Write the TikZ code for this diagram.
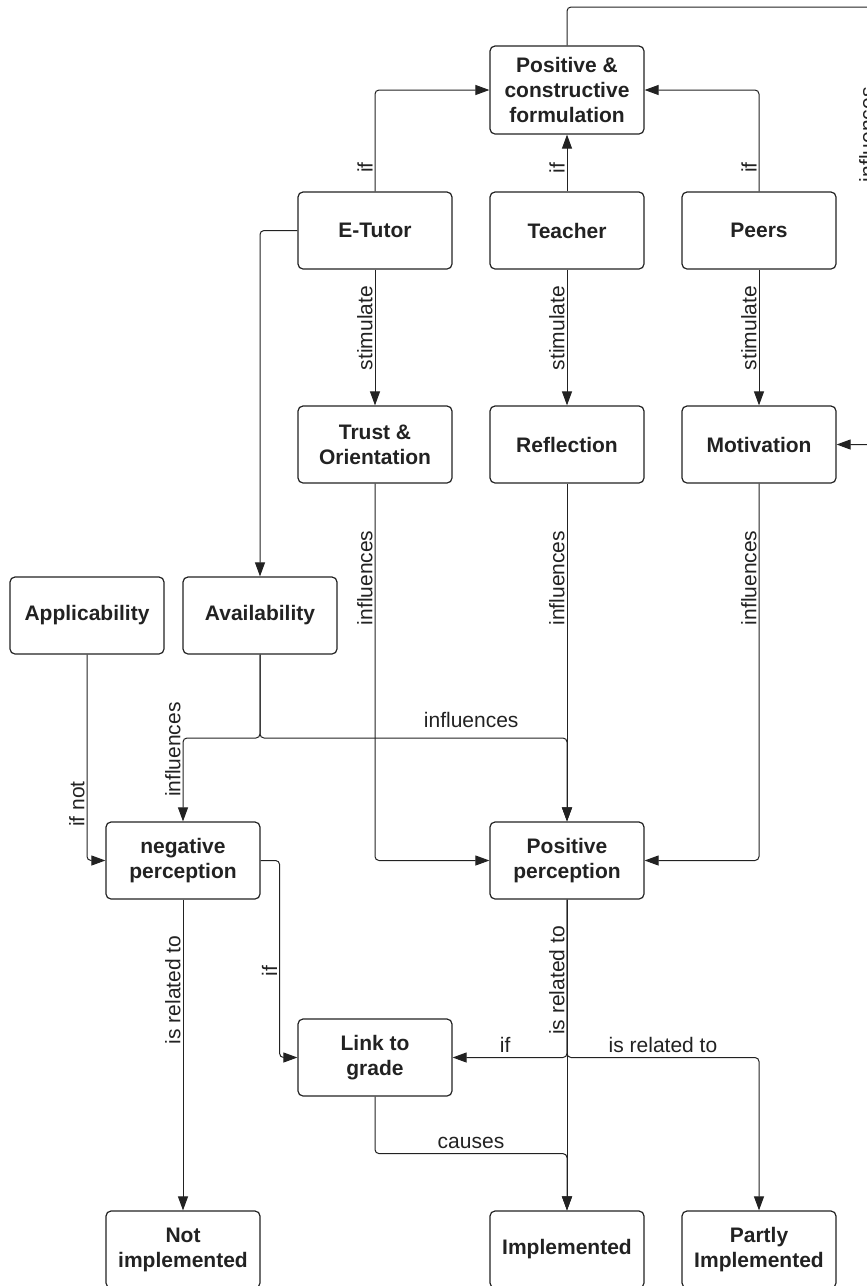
\documentclass[tikz,border=0pt]{standalone}
\usepackage{fontspec}
\setmainfont{Liberation Sans}
\usetikzlibrary{arrows.meta}
\definecolor{ink}{RGB}{34,34,34}
\tikzset{
  box/.style={draw=ink, line width=1.2pt, rounded corners=5pt, minimum width=154pt, minimum height=77pt, align=center, text=ink, inner sep=2pt, font=\fontsize{21}{25}\selectfont\bfseries},
  conn/.style={draw=ink, line width=1pt, rounded corners=4pt, -{Triangle[length=14pt,width=10pt]}},
  vlbl/.style={rotate=90, anchor=south, inner sep=2pt, text=ink, font=\fontsize{21}{25}\selectfont},
  hlbl/.style={anchor=south, inner sep=4.5pt, text=ink, font=\fontsize{21}{25}\selectfont},
}
\begin{document}
\begin{tikzpicture}[x=1pt,y=-1pt]
\useasboundingbox (0,0) rectangle (867,1286);
\clip (0,0) rectangle (867,1286);

\node[box, minimum height=88pt] (pcf) at (567,90) {Positive \&\\constructive\\formulation};

\node[box] (etutor) at (375,230.5) {E-Tutor};
\node[box] (teacher) at (567,230.5) {Teacher};
\node[box] (peers) at (759,230.5) {Peers};

\node[box] (trust) at (375,444.5) {Trust \&\\Orientation};
\node[box] (reflect) at (567,444.5) {Reflection};
\node[box] (motiv) at (759,444.5) {Motivation};

\node[box] (appl) at (87,615.5) {Applicability};
\node[box] (avail) at (260,615.5) {Availability};

\node[box] (negp) at (183,860.5) {negative\\perception};
\node[box] (posp) at (567,860.5) {Positive\\perception};

\node[box] (link) at (375,1057.5) {Link to\\grade};

\node[box] (notimpl) at (183,1249.5) {Not\\implemented};
\node[box] (impl) at (567,1249.5) {Implemented};
\node[box] (pimpl) at (759,1249.5) {Partly\\Implemented};

\coordinate (rim) at (877,7);
\coordinate (split) at (260,738);
\coordinate (fork) at (567,1057.5);

\draw[conn] (etutor.north) |- node[vlbl, pos=.118] {if} (pcf.west);
\draw[conn] (teacher.north) -- node[vlbl, pos=.41] {if} (pcf.south);
\draw[conn] (peers.north) |- node[vlbl, pos=.118] {if} (pcf.east);
\draw[conn] (pcf.north) |- (rim) |- node[vlbl, pos=.146] {influences} (motiv.east);

\draw[conn] (etutor.south) -- node[vlbl, pos=.43] {stimulate} (trust.north);
\draw[conn] (teacher.south) -- node[vlbl, pos=.43] {stimulate} (reflect.north);
\draw[conn] (peers.south) -- node[vlbl, pos=.43] {stimulate} (motiv.north);
\draw[conn] (etutor.west) -| (avail.north);

\draw[conn] (trust.south) |- node[vlbl, pos=.125] {influences} (posp.west);
\draw[conn] (reflect.south) -- node[vlbl, pos=.28] {influences} (posp.north);
\draw[conn] (motiv.south) |- node[vlbl, pos=.125] {influences} (posp.east);

\draw[conn] (avail.south) -- (split) -| node[vlbl, pos=.57] {influences} (negp.north);
\draw[conn] (avail.south) -- (split) -| node[hlbl, pos=.344, yshift=5pt] {influences} (posp.north);
\draw[conn] (appl.south) |- node[vlbl, pos=.363] {if not} (negp.west);

\draw[conn] (negp.east) -- ++(19,0) |- node[vlbl, pos=.28] {if} (link.west);
\draw[conn] (negp.south) -- node[vlbl, pos=.29] {is related to} (notimpl.north);
\draw[conn] (posp.south) -- node[vlbl, pos=.26] {is related to} (impl.north);
\draw[conn] (posp.south) |- node[hlbl, pos=.77] {if} (link.east);
\draw[conn] (posp.south) -- (fork) -| node[hlbl, pos=.25] {is related to} (pimpl.north);
\draw[conn] (link.south) -- ++(0,57) -| node[hlbl, pos=.25] {causes} (impl.north);

\end{tikzpicture}
\end{document}
